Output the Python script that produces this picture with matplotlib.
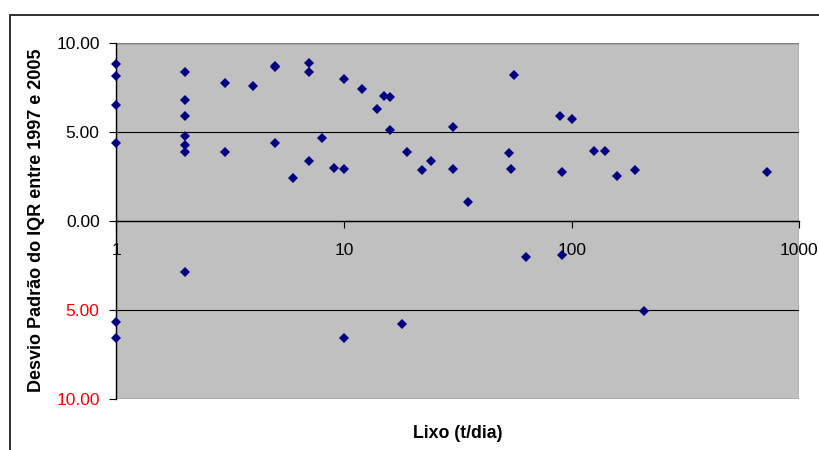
import matplotlib
matplotlib.use("Agg")
import matplotlib.pyplot as plt
from matplotlib.patches import Rectangle
from matplotlib.ticker import FixedLocator, NullLocator, FixedFormatter

plt.rcParams['font.family'] = ['Liberation Sans', 'DejaVu Sans']

lixo = [1, 1, 1, 1, 1, 1,
        2, 2, 2, 2, 2, 2, 2,
        3, 3, 4, 5, 5, 5, 6, 7, 7, 7, 8, 9, 10, 10, 10,
        12, 14, 15, 16, 16, 18, 19, 22, 24, 30, 30, 35,
        53, 54, 56, 63, 89, 91, 91, 100, 125, 140, 158, 190, 207, 718]
desvio = [8.85, 8.17, 6.52, 4.41, -5.67, -6.59,
          8.38, 6.84, 5.92, 4.81, 4.26, 3.87, -2.86,
          7.76, 3.89, 7.62, 8.71, 8.64, 4.38, 2.41, 8.88, 8.39, 3.40, 4.69, 2.97, 8.0, 2.91, -6.59,
          7.45, 6.33, 7.06, 7.0, 5.11, -5.80, 3.89, 2.89, 3.40, 5.31, 2.91, 1.09,
          3.83, 2.91, 8.23, -2.01, 5.92, 2.78, -1.88, 5.73, 3.94, 3.94, 2.54, 2.89, -5.05, 2.78]

x_ticks = [1, 10, 100, 1000]
x_tick_labels = ["1", "10", "100", "1000"]
y_ticks = [-10, -5, 0, 5, 10]
y_tick_labels = ["10.00", "5.00", "0.00", "5.00", "10.00"]
y_tick_colors = ["#FF0000", "#FF0000", "black", "black", "black"]

fig = plt.figure(figsize=(8.19, 4.5), dpi=100)
fig.patch.set_facecolor("white")

# chart area border
fig.patches.append(Rectangle((9.5 / 819, -0.1), 1.2, 1 - 14.7 / 450 + 0.1,
                             transform=fig.transFigure, fill=False,
                             edgecolor="#303030", linewidth=1.4))

ax = fig.add_axes([116.3 / 819, 1 - 399 / 450, (799.3 - 116.3) / 819, (399 - 43.3) / 450])
ax.set_facecolor("#C0C0C0")
ax.set_xscale("log")
ax.set_xlim(1, 1000)
ax.set_ylim(-10, 10)

# plot-area frame (grey)
ax.add_patch(Rectangle((0, 0), 1, 1, transform=ax.transAxes, fill=False,
                       edgecolor="#808080", linewidth=1.0, zorder=1))

for s in ["top", "right"]:
    ax.spines[s].set_visible(False)
ax.spines["left"].set_color("black")
ax.spines["left"].set_linewidth(1.0)
ax.spines["bottom"].set_position(("data", 0))
ax.spines["bottom"].set_color("black")
ax.spines["bottom"].set_linewidth(1.0)

# gridlines
ax.yaxis.set_major_locator(FixedLocator(y_ticks))
ax.grid(axis="y", color="black", linewidth=0.8)
ax.set_axisbelow(True)

ax.xaxis.set_major_locator(FixedLocator(x_ticks))
ax.xaxis.set_minor_locator(NullLocator())
ax.xaxis.set_major_formatter(FixedFormatter(x_tick_labels))
ax.yaxis.set_major_formatter(FixedFormatter(y_tick_labels))
ax.tick_params(axis="x", direction="out", length=5, width=0.8, pad=11, labelsize=12.5)
ax.tick_params(axis="y", direction="out", length=5, width=0.8, pad=7, labelsize=12.5)
for lbl, c in zip(ax.get_yticklabels(), y_tick_colors):
    lbl.set_color(c)

ax.plot(lixo, desvio, linestyle="none", marker="D", markersize=5.2,
        color="#000080", markeredgewidth=0, zorder=5, clip_on=False)

fig.text(37 / 819, 1 - 220 / 450, "Desvio Padrão do IQR entre 1997 e 2005",
         rotation=90, ha="center", va="center", fontsize=13, fontweight="bold")
fig.text(458 / 819, 1 - 433 / 450, "Lixo (t/dia)", ha="center", va="center",
         fontsize=12.8, fontweight="bold")

fig.savefig("out.png", dpi=100)
